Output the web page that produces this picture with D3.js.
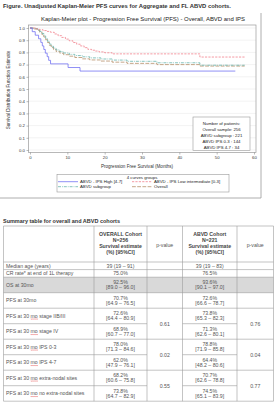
<!DOCTYPE html>
<html>
<head>
<meta charset="utf-8">
<script src="https://cdn.jsdelivr.net/npm/d3@7"></script>
<style>
  body { margin: 0; background: #fff; }
  svg { display: block; font-family: "Liberation Sans", Arial, sans-serif; }
</style>
</head>
<body>
<div id="chart"></div>
<script>
// ---- KM curve data (months, survival) ----
const highTime = [0, 0.6, 1.4, 2.3, 2.9, 3.3, 3.7, 4.1, 4.6, 5.0, 5.5, 10.2, 13.4, 55];
const highSurv = [1, 0.97, 0.941, 0.912, 0.882, 0.853, 0.824, 0.794, 0.765, 0.735, 0.706, 0.676, 0.647, 0.647];

const lowTime = [0, 1.5, 2.5, 3.5, 4.5, 5.5, 6.5, 7.5, 8.5, 9.5, 10.5, 11.5, 12.5, 13.5, 14.5, 15.5, 16.5, 17.5, 18.5, 20, 22, 45.5, 57.5];
const lowSurv = [1, 0.993, 0.986, 0.979, 0.972, 0.965, 0.951, 0.937, 0.923, 0.909, 0.895, 0.881, 0.867, 0.853, 0.839, 0.825, 0.818, 0.811, 0.804, 0.797, 0.788, 0.762, 0.762];

const abvdTime = [0, 1, 2, 2.6, 3.2, 3.7, 4.2, 4.7, 5.2, 5.7, 6.3, 7, 8, 9, 10.5, 12, 14, 16, 19, 22, 26, 34, 45.5, 57.5];
const abvdSurv = [1, 0.995, 0.986, 0.972, 0.955, 0.936, 0.914, 0.891, 0.868, 0.85, 0.835, 0.82, 0.806, 0.795, 0.784, 0.774, 0.764, 0.755, 0.746, 0.737, 0.727, 0.715, 0.695, 0.695];

const allTime = [0, 1, 2, 2.6, 3.2, 3.7, 4.2, 4.7, 5.2, 5.7, 6.3, 7, 8, 9, 10.5, 12, 14, 16, 19, 22, 26, 34, 45.5, 57.5];
const allSurv = [1, 0.992, 0.981, 0.965, 0.946, 0.926, 0.904, 0.881, 0.858, 0.839, 0.823, 0.807, 0.793, 0.781, 0.769, 0.758, 0.747, 0.738, 0.729, 0.72, 0.71, 0.7, 0.688, 0.688];

const curveNames = ["ABVD - IPS High [4-7]", "ABVD - IPS Low intermediate [0-3]", "ABVD subgroup", "Overall"];
const xTicks = [0, 10, 20, 30, 40, 50, 60];
const yTicks = [0, 0.1, 0.2, 0.3, 0.4, 0.5, 0.6, 0.7, 0.8, 0.9, 1.0];
const patientLines = ["Number of patients:", "Overall sample: 256", "ABVD subgroup : 221", "ABVD IPS 0-3 : 144", "ABVD IPS 4-7 : 34"];

// ---- summary table data ----
const headOverall = ["OVERALL Cohort", "N=256", "Survival estimate", "(%) [95%CI]"];
const headAbvd = ["ABVD Cohort", "N=221", "Survival estimate", "(%) [95%CI]"];
const rowLabels = ["Median age (years)", "CR rate* at end of 1L therapy", "OS at 30mo", "PFS at 30mo",
  "PFS at 30 mo stage IIB/III", "PFS at 30 mo stage IV", "PFS at 30 mo IPS 0-3", "PFS at 30 mo IPS 4-7",
  "PFS at 30 mo extra-nodal sites", "PFS at 30 mo no extra-nodal sites"];
const overallVals = [["39 (19 – 91)"], ["75.0%"], ["92.5%", "[89.0 – 96.0]"], ["70.7%", "[64.9 – 76.5]"],
  ["72.6%", "[64.4 – 80.9]"], ["68.9%", "[60.7 – 77.0]"], ["78.0%", "[71.3 – 84.6]"], ["62.0%", "[47.9 – 76.1]"],
  ["68.2%", "[60.6 – 75.8]"], ["73.8%", "[64.7 – 82.9]"]];
const abvdVals = [["39 (19 – 83)"], ["76.5%"], ["93.6%", "[90.1 – 97.0]"], ["72.6%", "[66.6 – 78.7]"],
  ["73.8%", "[65.3 – 82.3]"], ["71.3%", "[62.6 – 80.1]"], ["78.8%", "[71.9 – 85.8]"], ["64.4%", "[48.2 – 80.6]"],
  ["70.7%", "[62.6 – 78.8]"], ["74.5%", "[65.1 – 83.9]"]];
const pRowStart = [4, 6, 8];   // each p-value spans two rows
const overallP = ["0.61", "0.02", "0.55"];
const abvdP = ["0.76", "0.04", "0.77"];
const shadedRow = 2;

const width = 275, height = 402;
const svg = d3.select("#chart").append("svg")
  .attr("width", width).attr("height", height);

// Caption
svg.append("text").attr("x", 3).attr("y", 7.5)
  .attr("font-size", 5).attr("font-weight", "bold").attr("fill", "#333")
  .attr("textLength", 228).attr("lengthAdjust", "spacingAndGlyphs")
  .text("Figure. Unadjusted Kaplan-Meier PFS curves for Aggregate and FL ABVD cohorts.");

// figure frame (right + bottom edge)
svg.append("path").attr("d", "M261,13V198H0").attr("fill", "none").attr("stroke", "#999").attr("stroke-width", 0.8);

// ---- KM plot ----
const x = d3.scaleLinear().domain([0, 60]).range([30, 254]);
const y = d3.scaleLinear().domain([0, 1]).range([150, 28]);
const plot = {left: 28.5, right: 256, top: 25, bottom: 152.5};

svg.append("text").attr("x", 143).attr("y", 20.5).attr("text-anchor", "middle")
  .attr("font-size", 5.2).attr("fill", "#222")
  .attr("textLength", 204).attr("lengthAdjust", "spacingAndGlyphs")
  .text("Kaplan-Meier plot - Progression Free Survival (PFS) - Overall, ABVD and IPS");

// gridlines
svg.append("g").selectAll("line").data(yTicks).join("line")
  .attr("x1", plot.left).attr("x2", plot.right)
  .attr("y1", d => y(d)).attr("y2", d => y(d))
  .attr("stroke", "#e6e6e6").attr("stroke-width", 0.5);

svg.append("rect").attr("x", plot.left).attr("y", plot.top)
  .attr("width", plot.right - plot.left).attr("height", plot.bottom - plot.top)
  .attr("fill", "none").attr("stroke", "#9a9a9a").attr("stroke-width", 0.7);

const yAxis = svg.append("g").attr("transform", `translate(${plot.left},0)`)
  .call(d3.axisLeft(y).tickValues(yTicks).tickFormat(d3.format(".1f")).tickSize(2).tickPadding(1.5));
const xAxis = svg.append("g").attr("transform", `translate(0,${plot.bottom})`)
  .call(d3.axisBottom(x).tickValues(xTicks).tickSize(2).tickPadding(1.5));
[xAxis, yAxis].forEach(a => {
  a.select(".domain").remove();
  a.selectAll("line").attr("stroke", "#777").attr("stroke-width", 0.5);
  a.selectAll("text").attr("font-size", 4.3).attr("fill", "#333").style("font-family", "inherit");
});

svg.append("text").attr("x", 137).attr("y", 168).attr("text-anchor", "middle")
  .attr("font-size", 4.6).attr("fill", "#333")
  .text("Progression Free Survival (Months)");
svg.append("text").attr("transform", "translate(9.5,90) rotate(-90)").attr("text-anchor", "middle")
  .attr("font-size", 4.6).attr("fill", "#333")
  .text("Survival Distribution Function Estimate");

const curves = [
  {name: curveNames[0], t: highTime, s: highSurv, color: "#6b6bf2", dash: null},
  {name: curveNames[1], t: lowTime, s: lowSurv, color: "#f07a86", dash: "2.2,1.2"},
  {name: curveNames[2], t: abvdTime, s: abvdSurv, color: "#5fb0a8", dash: "3,1,0.8,1"},
  {name: curveNames[3], t: allTime, s: allSurv, color: "#b38a62", dash: "3.8,1.4"}
];

const line = d3.line().curve(d3.curveStepAfter)
  .x(d => x(d[0])).y(d => y(d[1]));

svg.append("g").selectAll("path").data(curves.slice().reverse()).join("path")
  .attr("d", c => line(d3.zip(c.t, c.s)))
  .attr("fill", "none")
  .attr("stroke", c => c.color)
  .attr("stroke-width", 0.75)
  .attr("stroke-dasharray", c => c.dash);

// patients inset
const inset = svg.append("g");
inset.append("rect").attr("x", 193).attr("y", 117).attr("width", 57).attr("height", 33.5)
  .attr("fill", "#fff").attr("stroke", "#999").attr("stroke-width", 0.6);
inset.selectAll("text").data(patientLines).join("text")
  .attr("x", 221.5).attr("y", (d, i) => 124.5 + i * 6.1)
  .attr("text-anchor", "middle").attr("font-size", 4.3).attr("fill", "#222")
  .text(d => d);

// legend
const legend = svg.append("g");
legend.append("rect").attr("x", 57).attr("y", 174.5).attr("width", 172).attr("height", 17.5)
  .attr("fill", "none").attr("stroke", "#999").attr("stroke-width", 0.6);
legend.append("text").attr("x", 142).attr("y", 179).attr("text-anchor", "middle")
  .attr("font-size", 4.3).attr("fill", "#222").text("4 curves groups");
const legPos = [[58, 183], [132, 183], [58, 188], [132, 188]];
curves.forEach((c, i) => {
  const [lx, ly] = legPos[i];
  legend.append("line").attr("x1", lx).attr("x2", lx + 20).attr("y1", ly - 1.3).attr("y2", ly - 1.3)
    .attr("stroke", c.color).attr("stroke-width", 0.75).attr("stroke-dasharray", c.dash);
  legend.append("text").attr("x", lx + 22).attr("y", ly).attr("font-size", 4.3).attr("fill", "#222")
    .text(c.name);
});

// ---- Summary table ----
svg.append("text").attr("x", 3).attr("y", 222.5)
  .attr("font-size", 5).attr("font-weight", "bold").attr("fill", "#333")
  .attr("textLength", 117).attr("lengthAdjust", "spacingAndGlyphs")
  .text("Summary table for overall and ABVD cohorts");

const cols = [3.5, 94, 147, 182.5, 237, 273.5];
const tableTop = 226, headH = 36, singleH = 7.6, doubleH = 15.5;
const rowH = overallVals.map(v => v.length > 1 ? doubleH : singleH);
const rowTop = [];
rowH.reduce((acc, h, i) => { rowTop[i] = acc; return acc + h; }, tableTop + headH);
const tableBottom = rowTop[rowTop.length - 1] + rowH[rowH.length - 1];
const tbl = svg.append("g");
const border = "#9c9c9c";
const txt = "#555";

// shaded row
tbl.append("rect").attr("x", cols[0]).attr("y", rowTop[shadedRow])
  .attr("width", cols[5] - cols[0]).attr("height", rowH[shadedRow]).attr("fill", "#d9d9d9");

// header
const colMid = i => (cols[i] + cols[i + 1]) / 2;
[[1, headOverall], [3, headAbvd]].forEach(([ci, lines]) => {
  tbl.selectAll(null).data(lines).join("text")
    .attr("x", colMid(ci)).attr("y", (d, i) => 235.5 + i * 6)
    .attr("text-anchor", "middle").attr("font-size", 5.2).attr("font-weight", "bold").attr("fill", "#444")
    .text(d => d);
});
[2, 4].forEach(ci => {
  tbl.append("text").attr("x", colMid(ci)).attr("y", 246.5).attr("text-anchor", "middle")
    .attr("font-size", 5.2).attr("fill", txt).text("p-value");
});

// body rows
rowLabels.forEach((lab, r) => {
  const mid = rowTop[r] + rowH[r] / 2;
  const t = tbl.append("text").attr("x", 6).attr("y", mid + 1.8)
    .attr("font-size", 5.2).attr("fill", txt).text(lab);
  if (lab.indexOf("30 mo") >= 0) {
    const node = t.node();
    const s = lab.indexOf("mo");
    const x0 = 6 + node.getSubStringLength(0, s);
    const w = node.getSubStringLength(s, 2);
    let d = `M${x0},${mid + 2.8}`;
    for (let k = 0; k * 1 < w; k++) d += `L${x0 + (k + 0.5)},${mid + 2.8 + (k % 2 ? 0 : 0.6)}`;
    tbl.append("path").attr("d", d).attr("fill", "none").attr("stroke", "#e03030").attr("stroke-width", 0.4);
  }
  [[1, overallVals[r]], [3, abvdVals[r]]].forEach(([ci, vals]) => {
    vals.forEach((v, k) => {
      const yy = vals.length > 1 ? mid - 0.8 + k * 5.2 : mid + 1.8;
      tbl.append("text").attr("x", colMid(ci)).attr("y", yy).attr("text-anchor", "middle")
        .attr("font-size", 5.2).attr("fill", txt).text(v);
    });
  });
});

// p-values spanning two rows
pRowStart.forEach((r, i) => {
  const mid = rowTop[r] + (rowH[r] + rowH[r + 1]) / 2;
  tbl.append("text").attr("x", colMid(2)).attr("y", mid + 1.8).attr("text-anchor", "middle")
    .attr("font-size", 5.2).attr("fill", txt).text(overallP[i]);
  tbl.append("text").attr("x", colMid(4)).attr("y", mid + 1.8).attr("text-anchor", "middle")
    .attr("font-size", 5.2).attr("fill", txt).text(abvdP[i]);
});

// grid lines
const hLines = [];
hLines.push({y: tableTop, x1: cols[0], x2: cols[5]});
rowTop.forEach((t, r) => {
  const inner = pRowStart.map(p => p + 1).indexOf(r) >= 0;
  if (inner) {
    hLines.push({y: t, x1: cols[0], x2: cols[2]});
    hLines.push({y: t, x1: cols[3], x2: cols[4]});
  } else {
    hLines.push({y: t, x1: cols[0], x2: cols[5]});
  }
});
hLines.push({y: tableBottom, x1: cols[0], x2: cols[5]});
tbl.selectAll(null).data(hLines).join("line")
  .attr("x1", d => d.x1).attr("x2", d => d.x2).attr("y1", d => d.y).attr("y2", d => d.y)
  .attr("stroke", border).attr("stroke-width", 0.6);
tbl.selectAll(null).data(cols).join("line")
  .attr("x1", d => d).attr("x2", d => d).attr("y1", tableTop).attr("y2", tableBottom)
  .attr("stroke", border).attr("stroke-width", 0.6);
</script>
</body>
</html>
